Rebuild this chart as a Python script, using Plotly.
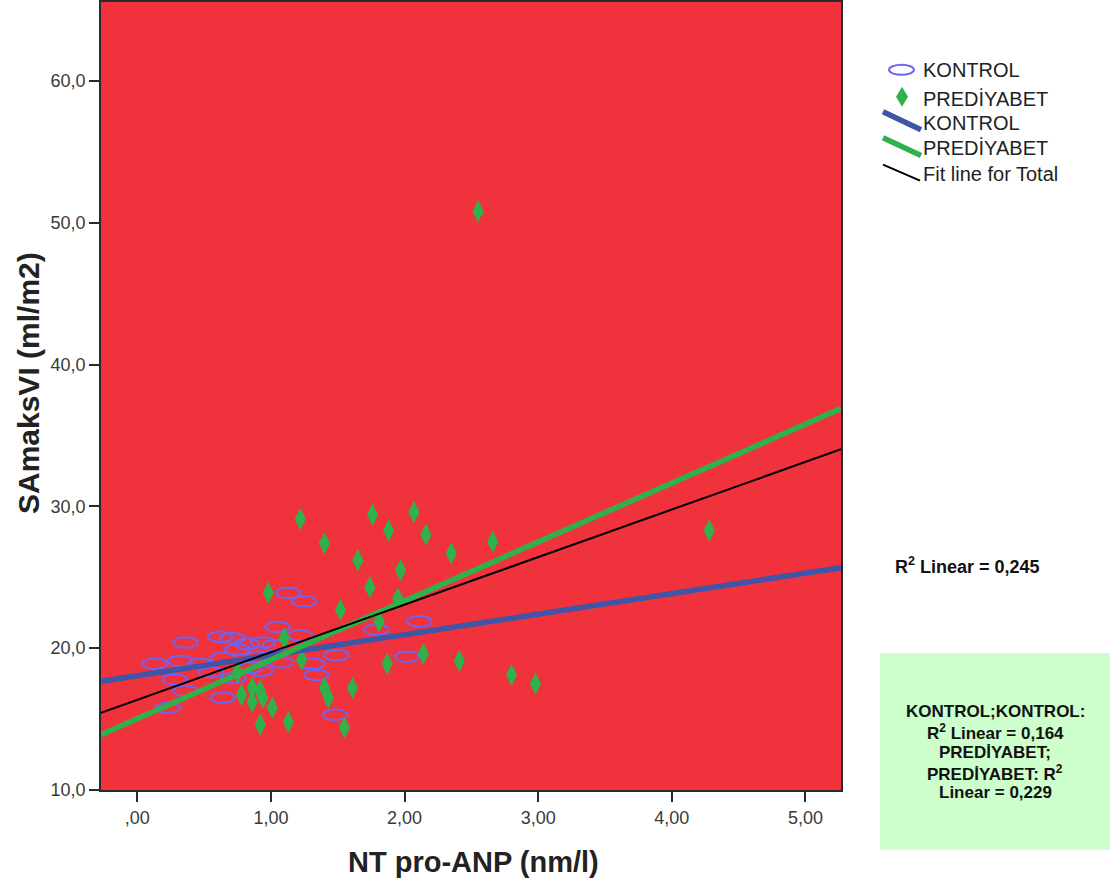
import numpy as np
import plotly.graph_objects as go

# ---- data -------------------------------------------------------------
kontrol_x = [0.13, 0.32, 0.36, 0.47, 0.28, 0.36, 0.23, 0.62, 0.71, 0.64,
             0.64, 0.75, 0.82, 0.90, 0.92, 0.94, 1.03, 1.05, 1.08, 1.22,
             1.31, 1.34, 1.49, 1.48, 1.13, 1.25, 1.79, 2.11, 2.02, 0.55,
             0.72, 0.84]
kontrol_y = [18.9, 19.1, 20.4, 18.9, 17.8, 17.0, 15.8, 20.8, 20.7, 19.3,
             16.5, 19.9, 20.3, 19.4, 18.4, 20.4, 20.2, 21.5, 19.0, 20.9,
             18.9, 18.1, 19.5, 15.3, 23.9, 23.3, 21.3, 21.9, 19.4, 18.3,
             17.9, 18.6]

prediyabet_x = [2.55, 4.28, 1.22, 1.76, 2.07, 1.88, 2.16, 1.40, 2.66, 2.35,
                1.65, 1.97, 1.74, 0.98, 1.95, 1.52, 1.81, 1.10, 1.23, 2.14,
                1.87, 2.41, 2.80, 2.98, 0.75, 0.78, 0.86, 0.92, 0.94, 0.86,
                1.01, 0.92, 1.13, 1.40, 1.43, 1.61, 1.55]
prediyabet_y = [50.8, 28.3, 29.1, 29.4, 29.6, 28.3, 28.0, 27.4, 27.5, 26.7,
                26.2, 25.5, 24.3, 23.9, 23.5, 22.7, 21.9, 20.7, 19.2, 19.6,
                18.9, 19.1, 18.1, 17.5, 18.3, 16.7, 17.2, 17.0, 16.5, 16.2,
                15.8, 14.6, 14.8, 17.2, 16.5, 17.2, 14.4]

# linear fits: KONTROL, PREDİYABET, Total
fit_intercepts = [18.06, 15.03, 16.36]
fit_slopes = [1.447, 4.153, 3.354]

r2_total = "0,245"
r2_kontrol = "0,164"
r2_prediyabet = "0,229"

x_tickvals = [0, 1, 2, 3, 4, 5]
x_ticktext = [",00", "1,00", "2,00", "3,00", "4,00", "5,00"]
y_tickvals = [10, 20, 30, 40, 50, 60]
y_ticktext = ["10,0", "20,0", "30,0", "40,0", "50,0", "60,0"]

# ---- layout geometry ----------------------------------------------------
W, H = 1114, 885
ML, MR, MT, MB = 101, 273, 0, 95
PW, PH = W - ML - MR, H - MT - MB
XR = [-0.272, 5.266]
YR = [10.0, 65.56]
ppx = PW / (XR[1] - XR[0])
ppy = PH / (YR[1] - YR[0])

RED = "#EF323B"
PURPLE = "#6F63F2"
GREEN = "#2EB34B"
BLUE = "#3E55A8"
AXIS = "#2a2a2a"
FONT = "Liberation Sans, Arial, sans-serif"


def px(x):
    return (x - ML) / PW


def py(y):
    return (H - MB - y) / PH


fig = go.Figure()

# open ellipses for KONTROL
t = np.linspace(0, 2 * np.pi, 41)
ex, ey = [], []
for xv, yv in zip(kontrol_x, kontrol_y):
    ex += list(xv + 12.3 / ppx * np.cos(t)) + [None]
    ey += list(yv + 5.3 / ppy * np.sin(t)) + [None]
fig.add_trace(go.Scatter(x=ex, y=ey, mode="lines",
                         line=dict(color=PURPLE, width=2),
                         hoverinfo="skip", showlegend=False))

# diamonds for PREDİYABET
fig.add_trace(go.Scatter(x=prediyabet_x, y=prediyabet_y, mode="markers",
                         marker=dict(symbol="diamond-tall", size=16,
                                     color=GREEN, line=dict(width=0)),
                         showlegend=False))

# fit lines
fit_styles = [(BLUE, 5.5), (GREEN, 5.5), ("#000000", 2)]
for a, b, (col, wd) in zip(fit_intercepts, fit_slopes, fit_styles):
    xs = np.array(XR)
    fig.add_trace(go.Scatter(x=xs, y=a + b * xs, mode="lines",
                             line=dict(color=col, width=wd),
                             hoverinfo="skip", showlegend=False))

shapes = []
annotations = []

# legend
shapes.append(dict(type="circle", xref="paper", yref="paper",
                   x0=px(889), x1=px(914), y0=py(73), y1=py(63),
                   line=dict(color=PURPLE, width=2)))
shapes.append(dict(type="path", xref="paper", yref="paper",
                   path=f"M{px(902)},{py(85)} L{px(908)},{py(95)} "
                        f"L{px(902)},{py(105)} L{px(896)},{py(95)} Z",
                   fillcolor=GREEN, line=dict(width=0)))
for (x0, y0, x1, y1), (col, wd) in zip(
        [(883, 110, 921, 128), (883, 136, 921, 154), (883, 163, 920, 179)],
        fit_styles):
    shapes.append(dict(type="line", xref="paper", yref="paper",
                       x0=px(x0), y0=py(y0), x1=px(x1), y1=py(y1),
                       line=dict(color=col, width=wd)))
for txt, yy in [("KONTROL", 68), ("PREDİYABET", 97), ("KONTROL", 121),
                ("PREDİYABET", 146), ("Fit line for Total", 172)]:
    annotations.append(dict(text=txt, xref="paper", yref="paper",
                            x=px(921), y=py(yy), xanchor="left",
                            yanchor="middle", showarrow=False,
                            font=dict(family=FONT, size=20, color="#222")))

# R² labels
annotations.append(dict(text=f"R<sup>2</sup> Linear = {r2_total}",
                        xref="paper", yref="paper", x=px(968), y=py(565),
                        xanchor="center", yanchor="middle", showarrow=False,
                        font=dict(family=FONT, size=18, color="#111",
                                  weight="bold")))
shapes.append(dict(type="rect", xref="paper", yref="paper",
                   x0=px(880), x1=px(1110), y0=py(850), y1=py(653),
                   fillcolor="#CCFFCC", line=dict(width=0), layer="below"))
box_lines = ["KONTROL;KONTROL:",
             f"R<sup>2</sup> Linear = {r2_kontrol}",
             "PREDİYABET;",
             "PREDİYABET: R<sup>2</sup>",
             f"Linear = {r2_prediyabet}"]
for i, line in enumerate(box_lines):
    annotations.append(dict(
        text=line, xref="paper", yref="paper", x=px(995),
        y=py(711 + 20.5 * i), xanchor="center", yanchor="middle",
        showarrow=False, borderpad=0,
        font=dict(family=FONT, size=17, color="#111", weight="bold")))

# axis titles
annotations.append(dict(text="NT pro-ANP (nm/l)", xref="paper", yref="paper",
                        x=px(473), y=py(862), xanchor="center",
                        yanchor="middle", showarrow=False,
                        font=dict(family=FONT, size=29, color="#222",
                                  weight="bold")))
annotations.append(dict(text="SAmaksVI (ml/m2)", xref="paper", yref="paper",
                        x=px(28), y=py(382), xanchor="center",
                        yanchor="middle", showarrow=False, textangle=-90,
                        font=dict(family=FONT, size=30, color="#222",
                                  weight="bold")))

axis_common = dict(showline=True, mirror=True, linecolor=AXIS, linewidth=1.8,
                   ticks="outside", ticklen=10, tickwidth=1.8, tickcolor=AXIS,
                   showgrid=False, zeroline=False,
                   tickfont=dict(family=FONT, size=18, color="#3a3a3a"))

fig.update_layout(
    width=W, height=H,
    margin=dict(l=ML, r=MR, t=MT, b=MB, pad=0),
    paper_bgcolor="white", plot_bgcolor=RED,
    xaxis=dict(range=XR, tickvals=x_tickvals, ticktext=x_ticktext,
               **axis_common),
    yaxis=dict(range=YR, tickvals=y_tickvals, ticktext=y_ticktext,
               **axis_common),
    shapes=shapes, annotations=annotations, showlegend=False,
)

fig.write_html("out.html")
